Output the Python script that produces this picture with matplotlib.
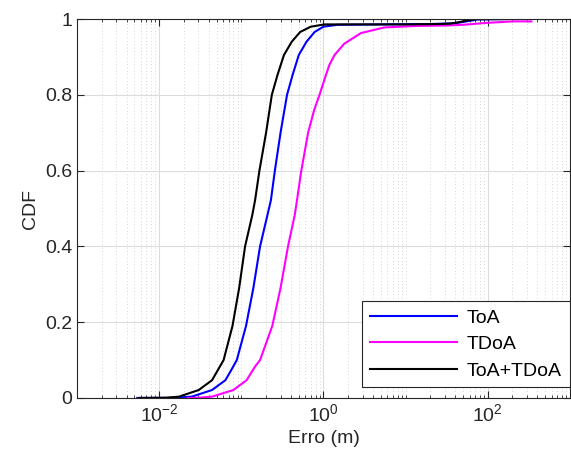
import matplotlib.pyplot as plt
import matplotlib.ticker as mticker
import numpy as np

plt.rcParams['font.family'] = ['Liberation Sans', 'DejaVu Sans']

## CDF curves (error in m, cumulative probability)
toa_err = [0.0054, 0.015, 0.025, 0.044, 0.064, 0.076, 0.088, 0.114, 0.140, 0.169,
           0.208, 0.229, 0.256, 0.30, 0.36, 0.42, 0.50, 0.62, 0.78,
           1.0, 1.49, 5.0, 20, 40, 55, 75, 150]
toa_cdf = [0.0, 0.0005, 0.0035, 0.021, 0.047, 0.075, 0.10, 0.19, 0.29, 0.40,
           0.483, 0.522, 0.60, 0.70, 0.80, 0.852, 0.905, 0.94, 0.966,
           0.98, 0.985, 0.986, 0.987, 0.989, 0.994, 0.999, 1.0]

tdoa_err = [0.022, 0.03, 0.044, 0.080, 0.116, 0.147, 0.169, 0.238, 0.30, 0.37,
            0.447, 0.476, 0.537, 0.65, 0.77, 0.895, 1.07, 1.18, 1.36, 1.79,
            2.85, 5.5, 13.7, 30, 50, 96, 200, 340]
tdoa_cdf = [0.0, 0.0005, 0.0035, 0.021, 0.047, 0.083, 0.10, 0.19, 0.29, 0.40,
            0.483, 0.522, 0.60, 0.70, 0.76, 0.80, 0.852, 0.879, 0.905, 0.935,
            0.963, 0.978, 0.982, 0.983, 0.985, 0.99, 0.994, 0.994]

both_err = [0.0057, 0.012, 0.0174, 0.0303, 0.044, 0.0608, 0.078, 0.094, 0.111, 0.136,
            0.147, 0.166, 0.20, 0.235, 0.275, 0.33, 0.41, 0.52, 0.70, 1.03,
            3.0, 10, 25, 35, 45, 60, 75, 170]
both_cdf = [0.0, 0.0005, 0.0035, 0.021, 0.047, 0.10, 0.19, 0.29, 0.40, 0.483,
            0.522, 0.60, 0.70, 0.80, 0.852, 0.905, 0.94, 0.966, 0.98, 0.986,
            0.986, 0.986, 0.987, 0.988, 0.992, 0.998, 1.0, 1.0]

fig = plt.figure(figsize=(5.71, 4.66), dpi=100)
ax = fig.add_axes([0.135, 0.146, 0.863, 0.813])

ax.plot(toa_err, toa_cdf, color='#0000ff', lw=1.5, label='ToA')
ax.plot(tdoa_err, tdoa_cdf, color='#ff00ff', lw=1.5, label='TDoA')
ax.plot(both_err, both_cdf, color='black', lw=1.5, label='ToA+TDoA')

ax.set_xscale('log')
ax.set_xlim(1e-3, 1e3)
ax.set_ylim(0, 1)
ax.xaxis.set_major_locator(mticker.FixedLocator([1e-2, 1, 1e2]))
ax.xaxis.set_minor_locator(mticker.LogLocator(base=10, subs=np.arange(1, 10), numticks=30))
ax.xaxis.set_minor_formatter(mticker.NullFormatter())
ax.set_yticks([0, 0.2, 0.4, 0.6, 0.8, 1])
ax.set_yticklabels(['0', '0.2', '0.4', '0.6', '0.8', '1'])

ax.grid(True, which='major', color='#dcdcdc', lw=0.8)
ax.grid(True, which='minor', axis='x', color='#c8c8c8', lw=0.6, ls=(0, (1, 3)))
ax.set_axisbelow(True)

ax.tick_params(which='both', direction='in', top=True, right=True,
               labelsize=14, colors='#262626')
ax.tick_params(which='major', length=5)
ax.tick_params(which='minor', length=2.5)
for s in ax.spines.values():
    s.set_color('#262626')
    s.set_linewidth(0.8)

ax.set_xlabel('Erro (m)', fontsize=14, color='#262626')
ax.set_ylabel('CDF', fontsize=14, color='#262626')

leg = ax.legend(loc='lower right', fontsize=14, fancybox=False, framealpha=1,
                edgecolor='#262626', handlelength=4.5, handletextpad=0.5,
                borderaxespad=0.0, labelspacing=0.45, bbox_to_anchor=(1.0, 0.028))
leg.get_frame().set_linewidth(0.8)

plt.savefig('out.png', dpi=100)
